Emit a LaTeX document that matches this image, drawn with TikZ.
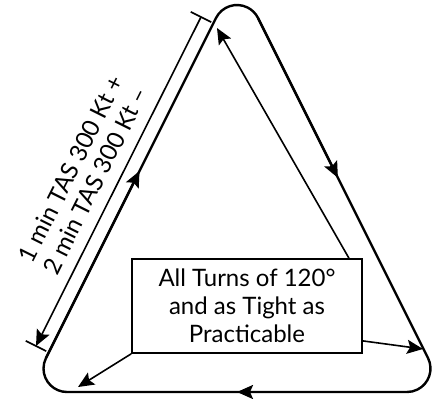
\documentclass[tikz,border=0pt]{standalone}
\usepackage{fontspec}
\setmainfont{Lato}
\usepackage{tikz}
\usetikzlibrary{arrows.meta,calc}

\begin{document}
\begin{tikzpicture}[x=0.5pt,y=0.5pt]
\tikzstyle{P}=[line width=1.2pt,line join=round]
\tikzstyle{A}=[line width=0.8pt,-{Stealth[length=8pt,width=7pt,inset=1.5pt]}]
\tikzstyle{B}=[draw,line width=0.9pt,minimum width=115pt,minimum height=47pt,
align=center,inner sep=0pt,font=\fontsize{12}{14}\selectfont]
\useasboundingbox (0,0) rectangle (439,398);
% the holding pattern
\coordinate (tl) at (216,380);
\coordinate (tr) at (258,380);
\coordinate (rb) at (428,40);
\coordinate (br) at (407,6);
\coordinate (bl) at (67,6);
\coordinate (lb) at (46,40);
\draw[P] (tr) -- (rb) arc[start angle=26.57,end angle=-90,radius=23.5]
  -- (bl) arc[start angle=270,end angle=153.43,radius=23.5]
  -- (tl) arc[start angle=153.43,end angle=26.57,radius=23.5] -- cycle;
\draw[A,line width=1.2pt] (tr) -- ($(tr)!0.47!(rb)$);
\draw[A,line width=1.2pt] (br) -- ($(br)!0.5!(bl)$);
\draw[A,line width=1.2pt] (lb) -- ($(lb)!0.55!(tl)$);
% leg length
\coordinate (d1) at (36,52);
\coordinate (d2) at (201,381);
\draw[A,{Stealth[length=8pt,width=7pt,inset=1.5pt]}-] (d1) -- (d2);
\draw[line width=0.8pt] ($(d1)!5.75pt!90:(d2)$) -- ($(d1)!5.75pt!-90:(d2)$);
\draw[line width=0.8pt] ($(d2)!5.75pt!90:(d1)$) -- ($(d2)!5.75pt!-90:(d1)$);
\node[rotate=63.43,align=center,font=\fontsize{12}{13.5}\selectfont] (len) at (83,223)
  {1 min TAS 300 Kt +\\2 min TAS 300 Kt –};
% note
\node[B] (box) at (247,92) {All Turns of 120°\\and as Tight as\\Practicable};
\coordinate (t1) at (217,370);
\coordinate (t2) at (78,11);
\coordinate (t3) at (423,49);
\draw[A] ($(box.north east)+(-14,0)$) -- (t1);
\draw[A] (box.south west) -- (t2);
\draw[A] ($(box.south east)+(0,13)$) -- (t3);
\end{tikzpicture}
\end{document}
